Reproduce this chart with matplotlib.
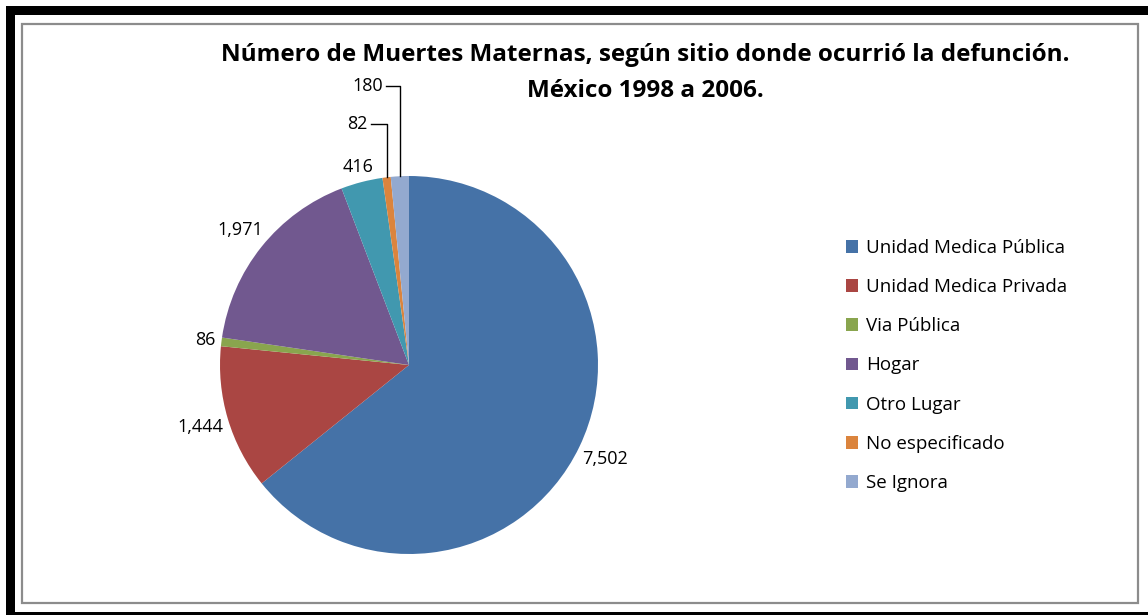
import numpy as np
import matplotlib
matplotlib.use("Agg")
import matplotlib.pyplot as plt
from matplotlib.patches import Rectangle

categories = ["Unidad Medica Pública", "Unidad Medica Privada", "Via Pública",
              "Hogar", "Otro Lugar", "No especificado", "Se Ignora"]
values = [7502, 1444, 86, 1971, 416, 82, 180]
colors = ["#4572A7", "#AA4643", "#89A54E", "#71588F", "#4198AF", "#DB843D", "#93A9CF"]
title_lines = ["Número de Muertes Maternas, según sitio donde ocurrió la defunción.",
               "México 1998 a 2006."]

W, H = 1148, 615
fig = plt.figure(figsize=(W / 100, H / 100), dpi=100)
fig.patch.set_facecolor("white")

# frame decoration (pixel coordinates, y from top)
def frect(x0, y0, x1, y1, **kw):
    fig.patches.append(Rectangle((x0 / W, 1 - y1 / H), (x1 - x0) / W, (y1 - y0) / H,
                                 transform=fig.transFigure, **kw))

frect(6, 6, W + 5, 15, facecolor="black", edgecolor="none")
frect(6, 6, 15, H + 5, facecolor="black", edgecolor="none")
frect(6, 612, W + 5, H + 5, facecolor="black", edgecolor="none")
frect(22, 24, 1138, 603, facecolor="none", edgecolor="#8c8c8c", linewidth=1.6)

ax = fig.add_axes([0, 0, 1, 1])
cx, cy, R = 409, H - 365, 189
wedges, _ = ax.pie(values, colors=colors, startangle=90, counterclock=False,
                   center=(cx, cy), radius=R, frame=True,
                   wedgeprops=dict(edgecolor="none", linewidth=0))
ax.set_xlim(0, W)
ax.set_ylim(0, H)
ax.axis("off")

fam = ["Open Sans", "DejaVu Sans"]
fig.text(645 / W, 1 - 61 / H, title_lines[0], ha="center", va="baseline",
         fontsize=17.5, fontweight="bold", family=fam)
fig.text(645 / W, 1 - 97 / H, title_lines[1], ha="center", va="baseline",
         fontsize=17.5, fontweight="bold", family=fam)

fig.canvas.draw()
renderer = fig.canvas.get_renderer()

lab_fs = 13
# leader-line labels for the two tiny top slices
leader = {5: (368, 124), 6: (383, 86)}
gap = 5
for i, (w, v) in enumerate(zip(wedges, values)):
    mid = np.deg2rad((w.theta1 + w.theta2) / 2)
    c, s = np.cos(mid), np.sin(mid)
    label = f"{v:,}"
    if i in leader:
        tx, ty = leader[i]
        ax.text(tx, H - ty, label, ha="right", va="center", fontsize=lab_fs, family=fam)
        ex, ey = cx + R * c, cy + R * s
        ax.plot([tx + 3, ex, ex], [H - ty, H - ty, ey], color="black", lw=1.0)
        continue
    t = ax.text(0, 0, label, ha="center", va="center", fontsize=lab_fs, family=fam)
    bb = t.get_window_extent(renderer)
    hw, hh = bb.width / 2, bb.height / 2
    d = R + gap + abs(c) * hw + abs(s) * hh * 0.8
    t.set_position((cx + d * c, cy + d * s))

leg = fig.legend(wedges, categories, loc="center left",
                 bbox_to_anchor=(846 / W, 1 - 365.5 / H), frameon=False,
                 prop=dict(family=fam, size=13.5), handlelength=0.65,
                 handleheight=0.65, handletextpad=0.4, labelspacing=1.13,
                 borderpad=0, borderaxespad=0)

fig.savefig("out.png", dpi=100)
